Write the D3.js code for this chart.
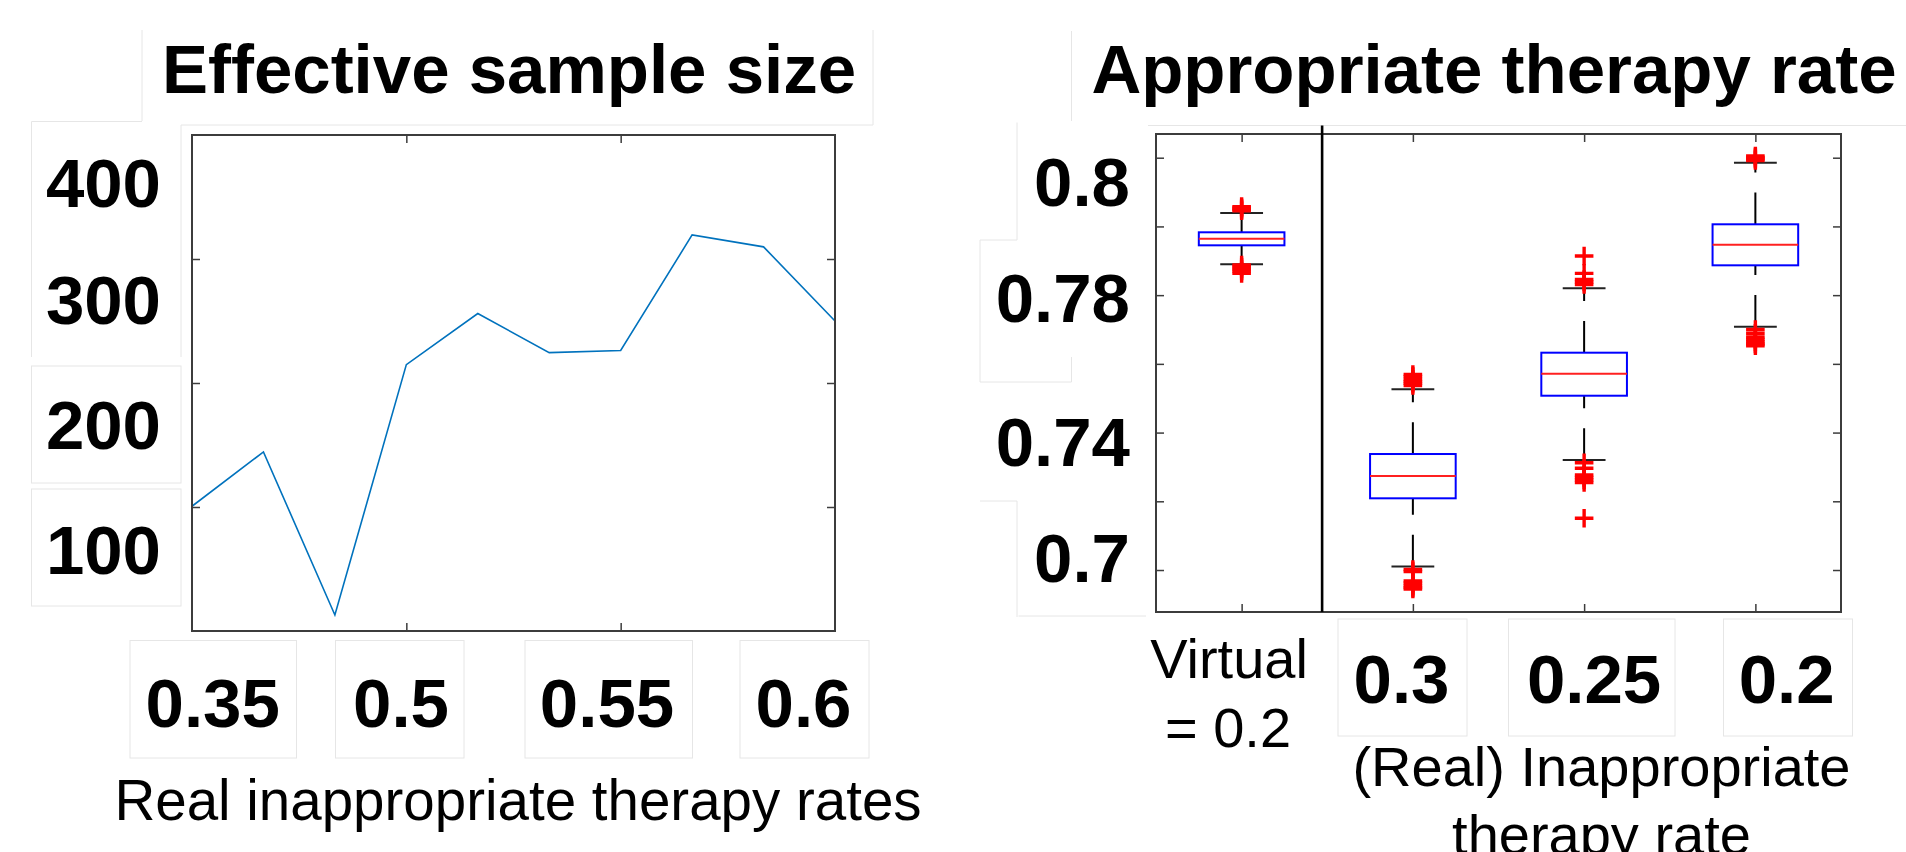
<!DOCTYPE html>
<html><head><meta charset="utf-8">
<script src="https://cdn.jsdelivr.net/npm/d3@7"></script>
<style>html,body{margin:0;padding:0;background:#fff;overflow:hidden}</style>
</head><body>
<svg id="c" width="1906" height="852"></svg>
<script>
// ---------- Left panel: effective sample size ----------
const essIndex  = [1, 2, 3, 4, 5, 6, 7, 8, 9, 10];
const essValues = [100.6, 144.4, 12.9, 214.8, 256, 224.5, 226.2, 319.4, 309.8, 250];
const essXTicks = [4, 7];
const essYTicks = [100, 200, 300];
const essYLabels = ["400", "300", "200", "100"];
const essXLabels = ["0.35", "0.5", "0.55", "0.6"];

// ---------- Right panel: appropriate therapy rate (box plots) ----------
const boxCategories = ["Virtual", "0.3", "0.25", "0.2"];
const boxQ1        = [0.77450, 0.70087, 0.73073, 0.76868];
const boxMedian    = [0.77642, 0.70736, 0.73713, 0.77468];
const boxQ3        = [0.77829, 0.71376, 0.74325, 0.78062];
const whiskerLow   = [0.76897, 0.68102, 0.71202, 0.75081];
const whiskerHigh  = [0.78390, 0.73259, 0.76199, 0.79854];
const outliersHigh = [
  [0.78577, 0.78536, 0.78492, 0.78457],
  [0.73690, 0.73632, 0.73550, 0.73486, 0.73434, 0.73370],
  [0.77139, 0.76635, 0.76455, 0.76382, 0.76309],
  [0.80049, 0.80006, 0.79962, 0.79919]
];
const outliersLow = [
  [0.76877, 0.76819, 0.76761, 0.76702, 0.76635],
  [0.68014, 0.67956, 0.67680, 0.67621, 0.67549, 0.67491, 0.67447],
  [0.71123, 0.70960, 0.70765, 0.70692, 0.70619, 0.70547, 0.69505],
  [0.75000, 0.74889, 0.74781, 0.74709, 0.74636, 0.74578, 0.74528]
];
const boxYTicks  = [0.68, 0.70, 0.72, 0.74, 0.76, 0.78, 0.80];
const boxYLabels = ["0.8", "0.78", "0.74", "0.7"];
const boxXLabels = ["0.3", "0.25", "0.2"];
const separatorAt = 1.47;

const FONT = "'Liberation Sans', Arial, Helvetica, sans-serif";
const svg = d3.select("#c");
const frameColor = "#3c3c3c";

// faint outlines of the pasted label boxes
const faint = svg.append("g").attr("fill", "none").attr("stroke", "#e6e6e6").attr("stroke-width", 1);
function seg(x1, y1, x2, y2) { faint.append("line").attr("x1", x1).attr("y1", y1).attr("x2", x2).attr("y2", y2); }
function rect(x1, y1, x2, y2) { faint.append("rect").attr("x", x1).attr("y", y1).attr("width", x2 - x1).attr("height", y2 - y1); }
seg(142, 30, 142, 121); seg(873, 30, 873, 125); seg(181, 125, 873, 125);
seg(31.5, 121.5, 142, 121.5); seg(31.5, 121.5, 31.5, 357); seg(181, 125, 181, 357);
rect(31.5, 366, 181, 483); rect(31.5, 489, 181, 606);
rect(130, 640.5, 296.5, 758); rect(335.5, 640.5, 464, 758); rect(525, 640.5, 692.5, 758); rect(740, 640.5, 869, 758);
seg(1071.5, 31, 1071.5, 121); seg(1148, 125.5, 1906, 125.5);
seg(1017, 122.5, 1017, 240); seg(980, 240, 1017, 240); seg(980, 240, 980, 382); seg(1071.5, 357, 1071.5, 382);
seg(980, 382, 1071.5, 382); seg(980, 501, 1017, 501); seg(1017, 501, 1017, 617);
seg(1018.5, 616, 1146, 616);
rect(1338, 619, 1467, 736); rect(1508.5, 619, 1675, 736); rect(1723.5, 619, 1852.5, 736);

// ================= LEFT PANEL =================
const L = {x0: 192, x1: 835, y0: 135, y1: 631};
const xL = d3.scaleLinear().domain([1, 10]).range([L.x0, L.x1]);
const yL = d3.scaleLinear().domain([0, 400]).range([L.y1, L.y0]);

const gL = svg.append("g");
gL.append("path")
  .datum(essIndex.map((d, i) => [d, essValues[i]]))
  .attr("fill", "none").attr("stroke", "#0072BD").attr("stroke-width", 1.6)
  .attr("stroke-linejoin", "miter")
  .attr("d", d3.line().x(d => xL(d[0])).y(d => yL(d[1])));

function noLabels(ax) { ax.selectAll("text").remove(); ax.select(".domain").remove(); ax.selectAll("line").attr("stroke", frameColor).attr("stroke-width", 1.5); }
gL.append("g").attr("transform", `translate(0,${L.y1})`).call(d3.axisTop(xL).tickValues(essXTicks).tickSize(8)).call(noLabels);
gL.append("g").attr("transform", `translate(0,${L.y0})`).call(d3.axisBottom(xL).tickValues(essXTicks).tickSize(8)).call(noLabels);
gL.append("g").attr("transform", `translate(${L.x0},0)`).call(d3.axisRight(yL).tickValues(essYTicks).tickSize(8)).call(noLabels);
gL.append("g").attr("transform", `translate(${L.x1},0)`).call(d3.axisLeft(yL).tickValues(essYTicks).tickSize(8)).call(noLabels);
gL.append("rect").attr("x", L.x0).attr("y", L.y0).attr("width", L.x1 - L.x0).attr("height", L.y1 - L.y0)
  .attr("fill", "none").attr("stroke", frameColor).attr("stroke-width", 2);

// pasted tick labels (unevenly placed in the original) via piecewise scales
const yLabL = d3.scaleOrdinal().domain(essYLabels).range([207, 323.6, 449, 574.3]);
gL.selectAll("text.yl").data(essYLabels).join("text")
  .attr("x", 161).attr("y", d => yLabL(d)).attr("text-anchor", "end")
  .attr("font-family", FONT).attr("font-weight", "bold").attr("font-size", 69).text(d => d);
const xLabL = d3.scaleOrdinal().domain(essXLabels).range([212.7, 401, 607, 803.5]);
gL.selectAll("text.xl").data(essXLabels).join("text")
  .attr("x", d => xLabL(d)).attr("y", 727).attr("text-anchor", "middle")
  .attr("font-family", FONT).attr("font-weight", "bold").attr("font-size", 69).text(d => d);
gL.append("text").attr("x", 509).attr("y", 93).attr("text-anchor", "middle")
  .attr("font-family", FONT).attr("font-weight", "bold").attr("font-size", 69).text("Effective sample size");
gL.append("text").attr("x", 518).attr("y", 820).attr("text-anchor", "middle")
  .attr("font-family", FONT).attr("font-size", 56.5).text("Real inappropriate therapy rates");

// ================= RIGHT PANEL =================
const R = {x0: 1156, x1: 1841, y0: 134, y1: 612};
const xR = d3.scaleLinear().domain([0.5, 4.5]).range([R.x0, R.x1]);
const yR = d3.scaleLinear().domain([0.66778, 0.80690]).range([R.y1, R.y0]);
const catPos = boxCategories.map((c, i) => i + 1);
const boxHalf = 0.25, capHalf = 0.125;

const gR = svg.append("g");
gR.append("g").attr("transform", `translate(0,${R.y1})`).call(d3.axisTop(xR).tickValues(catPos).tickSize(8)).call(noLabels);
gR.append("g").attr("transform", `translate(0,${R.y0})`).call(d3.axisBottom(xR).tickValues(catPos).tickSize(8)).call(noLabels);
gR.append("g").attr("transform", `translate(${R.x0},0)`).call(d3.axisRight(yR).tickValues(boxYTicks).tickSize(8)).call(noLabels);
gR.append("g").attr("transform", `translate(${R.x1},0)`).call(d3.axisLeft(yR).tickValues(boxYTicks).tickSize(8)).call(noLabels);

const boxes = boxCategories.map((c, i) => ({
  x: catPos[i], q1: boxQ1[i], med: boxMedian[i], q3: boxQ3[i],
  lo: whiskerLow[i], hi: whiskerHigh[i], outs: outliersHigh[i].concat(outliersLow[i])
}));
const bg = gR.selectAll("g.box").data(boxes).join("g");
bg.append("path").attr("fill", "none").attr("stroke", "#000").attr("stroke-width", 2).attr("stroke-dasharray", "31.7,20")
  .attr("d", d => `M${xR(d.x)},${yR(d.q3)}L${xR(d.x)},${yR(d.hi)}`);
bg.append("path").attr("fill", "none").attr("stroke", "#000").attr("stroke-width", 2).attr("stroke-dasharray", "31.7,20")
  .attr("d", d => `M${xR(d.x)},${yR(d.lo)}L${xR(d.x)},${yR(d.q1)}`);
bg.selectAll("line.cap").data(d => [{x: d.x, v: d.hi}, {x: d.x, v: d.lo}]).join("line")
  .attr("x1", d => xR(d.x - capHalf)).attr("x2", d => xR(d.x + capHalf))
  .attr("y1", d => yR(d.v)).attr("y2", d => yR(d.v))
  .attr("stroke", "#222").attr("stroke-width", 2);
bg.append("rect")
  .attr("x", d => xR(d.x - boxHalf)).attr("width", d => xR(d.x + boxHalf) - xR(d.x - boxHalf))
  .attr("y", d => yR(d.q3)).attr("height", d => yR(d.q1) - yR(d.q3))
  .attr("fill", "none").attr("stroke", "#0000ff").attr("stroke-width", 2);
bg.append("line")
  .attr("x1", d => xR(d.x - boxHalf)).attr("x2", d => xR(d.x + boxHalf))
  .attr("y1", d => yR(d.med)).attr("y2", d => yR(d.med))
  .attr("stroke", "#ff2020").attr("stroke-width", 2);
bg.selectAll("path.out").data(d => d.outs.map(v => ({x: d.x, v}))).join("path")
  .attr("d", d => { const cx = xR(d.x), cy = yR(d.v); return `M${cx - 9.3},${cy}H${cx + 9.3}M${cx},${cy - 9.3}V${cy + 9.3}`; })
  .attr("stroke", "#ff0000").attr("stroke-width", 3.4).attr("fill", "none");

gR.append("rect").attr("x", R.x0).attr("y", R.y0).attr("width", R.x1 - R.x0).attr("height", R.y1 - R.y0)
  .attr("fill", "none").attr("stroke", frameColor).attr("stroke-width", 2);
gR.append("line").attr("x1", xR(separatorAt)).attr("x2", xR(separatorAt)).attr("y1", 125.5).attr("y2", R.y1)
  .attr("stroke", "#000").attr("stroke-width", 2.6);

const yLabR = d3.scaleOrdinal().domain(boxYLabels).range([206, 322, 465.5, 582]);
gR.selectAll("text.yl").data(boxYLabels).join("text")
  .attr("x", 1130).attr("y", d => yLabR(d)).attr("text-anchor", "end")
  .attr("font-family", FONT).attr("font-weight", "bold").attr("font-size", 69).text(d => d);
const xLabR = d3.scalePoint().domain(boxXLabels).range([1401.5, 1786.7]);
gR.selectAll("text.xl").data(boxXLabels).join("text")
  .attr("x", d => xLabR(d)).attr("y", 703).attr("text-anchor", "middle")
  .attr("font-family", FONT).attr("font-weight", "bold").attr("font-size", 69).text(d => d);
gR.append("text").attr("x", 1229).attr("y", 678).attr("text-anchor", "middle")
  .attr("font-family", FONT).attr("font-size", 56).text("Virtual");
gR.append("text").attr("x", 1228).attr("y", 746.5).attr("text-anchor", "middle")
  .attr("font-family", FONT).attr("font-size", 56).text("= 0.2");
gR.append("text").attr("x", 1494).attr("y", 92.5).attr("text-anchor", "middle")
  .attr("font-family", FONT).attr("font-weight", "bold").attr("font-size", 69).text("Appropriate therapy rate");
gR.append("text").attr("x", 1601.5).attr("y", 786).attr("text-anchor", "middle")
  .attr("font-family", FONT).attr("font-size", 56).text("(Real) Inappropriate");
gR.append("text").attr("x", 1601.5).attr("y", 853.5).attr("text-anchor", "middle")
  .attr("font-family", FONT).attr("font-size", 56).text("therapy rate");
</script>
</body></html>
